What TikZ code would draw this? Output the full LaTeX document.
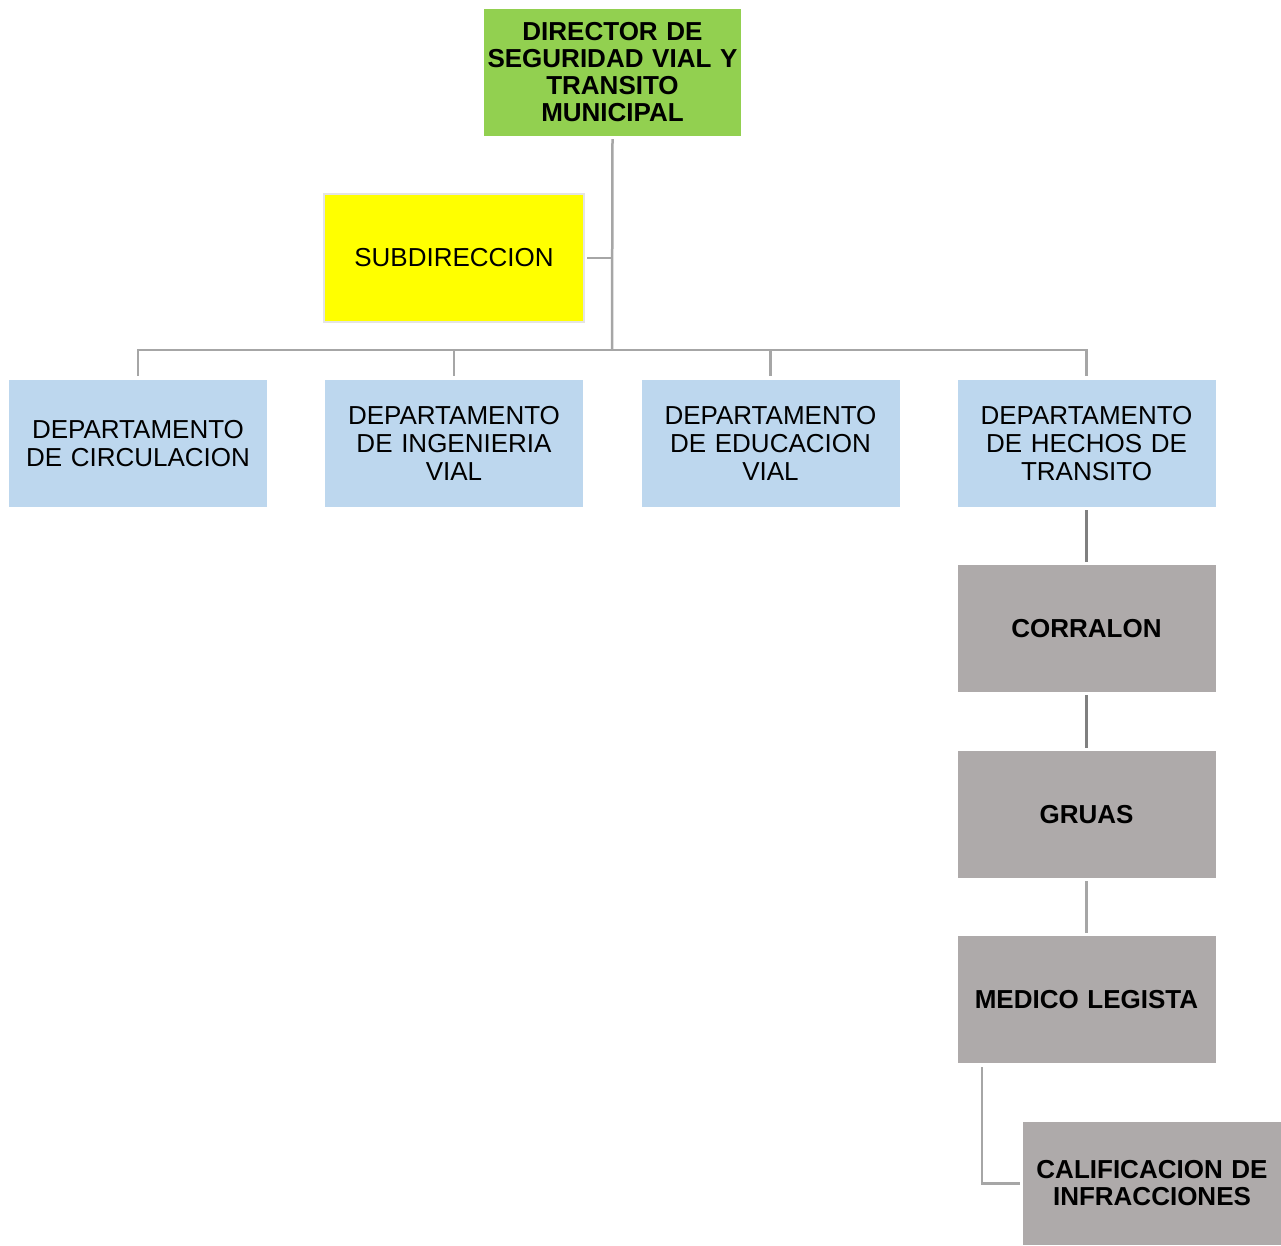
\documentclass[tikz,border=0pt]{standalone}
\usepackage{fontspec}
\setmainfont{Liberation Sans}
\begin{document}
\begin{tikzpicture}[x=1pt,y=-1pt,
  box/.style={inner sep=0pt, align=center, text width=#1, font=\fontsize{26}{28}\selectfont},
  box/.default=250pt,
  dirbox/.style={box, fill=dirgreen, minimum width=257pt, minimum height=127pt, font=\bfseries\fontsize{26}{27}\selectfont},
  subbox/.style={box, fill=subyellow, draw=subedge, line width=2pt, minimum width=260pt, minimum height=128pt},
  deptbox/.style={box, fill=deptblue, minimum width=258pt, minimum height=127pt},
  unitbox/.style={box, fill=unitgray, minimum width=258pt, minimum height=127pt, font=\bfseries\fontsize{26}{27}\selectfont},
  link/.style={draw=linkgray, line width=2.5pt},
  linkdark/.style={draw=linkdark, line width=2.5pt}]
\definecolor{dirgreen}{HTML}{92D050}
\definecolor{subyellow}{RGB}{255,255,0}
\definecolor{deptblue}{HTML}{BDD7EE}
\definecolor{unitgray}{HTML}{AEAAAA}
\definecolor{subedge}{HTML}{E4E4E4}
\definecolor{linkgray}{HTML}{A6A6A6}
\definecolor{linkdark}{HTML}{808080}

\useasboundingbox (0,0) rectangle (1281,1245);

% top level
\node[dirbox] (dir) at (612.5,72.5) {DIRECTOR DE\\SEGURIDAD VIAL Y\\TRANSITO\\MUNICIPAL};
\node[subbox] (sub) at (454,258) {SUBDIRECCION};

% departments
\node[deptbox] (d1) at (138,443.5) {DEPARTAMENTO\\DE CIRCULACION};
\node[deptbox] (d2) at (454,443.5) {DEPARTAMENTO\\DE INGENIERIA\\VIAL};
\node[deptbox] (d3) at (770.5,443.5) {DEPARTAMENTO\\DE EDUCACION\\VIAL};
\node[deptbox] (d4) at (1086.5,443.5) {DEPARTAMENTO\\DE HECHOS DE\\TRANSITO};

% units under the traffic-incidents department
\node[unitbox] (u1) at (1086.5,628.5) {CORRALON};
\node[unitbox] (u2) at (1086.5,814.5) {GRUAS};
\node[unitbox] (u3) at (1086.5,999.5) {MEDICO LEGISTA};
\node[unitbox, minimum height=123pt] (u4) at (1152,1183.5) {CALIFICACION DE\\INFRACCIONES};

% trunk and bus (gaps of a few points at the box edges)
\coordinate (bus) at (612,350);
\coordinate (busL) at (d1.north |- bus);
\coordinate (busR) at (d4.north |- bus);
\draw[link] ([yshift=-3pt]dir.south) -- (bus);
\draw[link] ([xshift=2pt]sub.east) -- (sub.east -| bus);
\draw[link] ([yshift=4pt]d1.north) -- (busL) -- (busR) -- ([yshift=4pt]d4.north);
\draw[link] ([yshift=4pt]d2.north) -- (d2.north |- bus);
\draw[link] ([yshift=4pt]d3.north) -- (d3.north |- bus);

% chain of units
\draw[linkdark] ([yshift=-3pt]d4.south) -- ([yshift=3pt]u1.north);
\draw[linkdark] ([yshift=-3pt]u1.south) -- ([yshift=3pt]u2.north);
\draw[link] ([yshift=-3pt]u2.south) -- ([yshift=3pt]u3.north);
\draw[link] ([xshift=-104.5pt,yshift=-4pt]u3.south) |- ([xshift=-3pt]u4.west);
\end{tikzpicture}
\end{document}
